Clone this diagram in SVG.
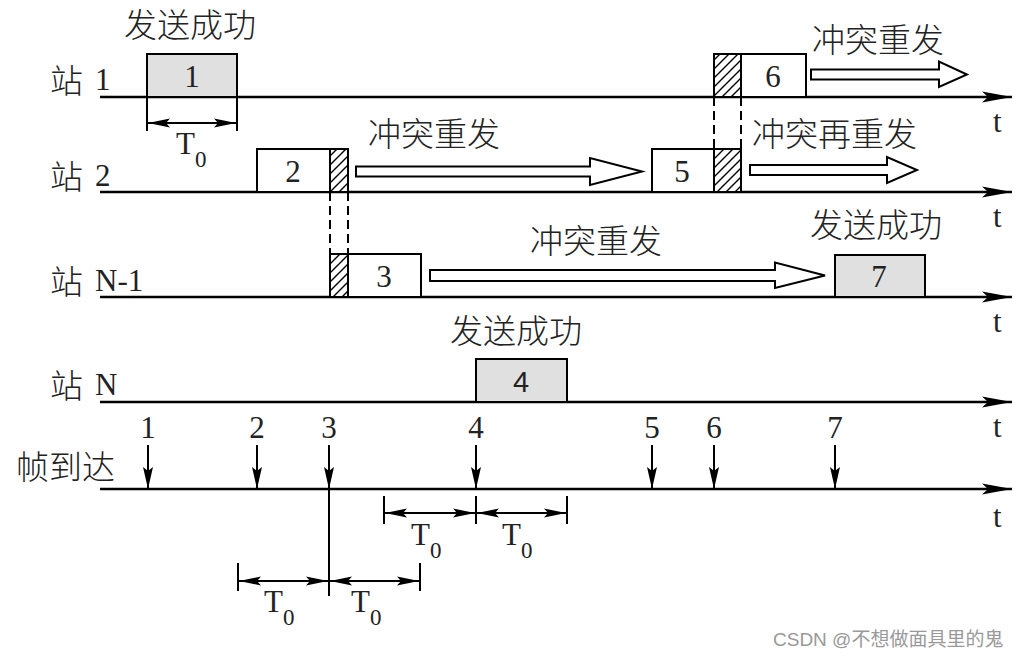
<svg xmlns="http://www.w3.org/2000/svg" width="1022" height="660" viewBox="0 0 1022 660">
<style>
.axis{stroke:#000;stroke-width:2.5;fill:none}
.box{stroke:#000;stroke-width:2;fill:#fff}
.ok{fill:#e0e0e0}
.hatch{stroke:#000;stroke-width:2;fill:url(#hp)}
.dash{stroke:#000;stroke-width:2;stroke-dasharray:9,5;fill:none}
.hollow{stroke:#000;stroke-width:2;fill:#fff}
.thin{stroke:#000;stroke-width:2;fill:none}
.cjk{font-family:"Noto Sans CJK SC","Noto Sans",sans-serif;font-size:33px;fill:#222;font-weight:300}
.num{font-family:"Liberation Serif",serif;font-size:31px;fill:#222}
.sub{font-family:"Liberation Serif",serif;font-size:23px;fill:#222}
.wm{font-family:"Liberation Sans",Arial,sans-serif;font-size:19px;fill:#999}
.wmc{font-family:"Noto Sans CJK SC",sans-serif;font-size:19px;fill:#999}
</style>
<defs>
<pattern id="hp" patternUnits="userSpaceOnUse" width="9" height="9">
<path d="M-2,11 L11,-2 M-2,2 L2,-2 M7,11 L11,7" stroke="#000" stroke-width="1.4"/>
</pattern>
<marker id="ah" viewBox="0 0 30 12" refX="30" refY="6" markerWidth="30" markerHeight="12" markerUnits="userSpaceOnUse" orient="auto">
<path d="M0,0.5 L30,6 L0,11.5 L6,6 Z" fill="#000"/>
</marker>
<marker id="dh" viewBox="0 0 22 10" refX="22" refY="5" markerWidth="22" markerHeight="10" markerUnits="userSpaceOnUse" orient="auto-start-reverse">
<path d="M0,0.5 L22,5 L0,9.5 L4,5 Z" fill="#000"/>
</marker>
<marker id="vh" viewBox="0 0 11 22" refX="5.5" refY="22" markerWidth="11" markerHeight="22" markerUnits="userSpaceOnUse" orient="0">
<path d="M0.5,0 L5.5,22 L10.5,0 L5.5,4 Z" fill="#000"/>
</marker>
</defs>
<rect width="1022" height="660" fill="#fff"/>

<g id="labels">
<text class="cjk" x="50" y="93">站</text><text class="num" x="95" y="90">1</text>
<text class="cjk" x="50" y="189">站</text><text class="num" x="95" y="186">2</text>
<text class="cjk" x="50" y="294">站</text><text class="num" x="95" y="291">N-1</text>
<text class="cjk" x="50" y="398">站</text><text class="num" x="95" y="395">N</text>
<text class="cjk" x="16" y="479">帧到达</text>
<text class="num" x="993" y="132">t</text>
<text class="num" x="993" y="227">t</text>
<text class="num" x="993" y="332">t</text>
<text class="num" x="993" y="437">t</text>
<text class="num" x="993" y="527">t</text>
</g>

<g id="connectors">
<path class="axis" d="M100,97 H1012" marker-end="url(#ah)"/>
<path class="axis" d="M100,192 H1012" marker-end="url(#ah)"/>
<path class="axis" d="M100,297 H1012" marker-end="url(#ah)"/>
<path class="axis" d="M100,402 H1012" marker-end="url(#ah)"/>
<path class="axis" d="M100,489 H1012" marker-end="url(#ah)"/>
<path class="dash" d="M330,192 V254 M348,192 V254"/>
<path class="dash" d="M714,97 V149 M741,97 V149"/>
<polygon class="hollow" points="356,166.5 590,166.5 590,158 642,171.5 590,185 590,176.5 356,176.5"/>
<polygon class="hollow" points="430,270 775,270 775,262.5 825,275.5 775,288 775,281 430,281"/>
<polygon class="hollow" points="811,69.5 939,69.5 939,61.5 967,74.5 939,87 939,79.5 811,79.5"/>
<polygon class="hollow" points="750,165 887,165 887,157 917,170 887,183 887,175 750,175"/>
<g id="arrivals">
<path class="thin" d="M148,445 V489" marker-end="url(#vh)"/>
<path class="thin" d="M257,445 V489" marker-end="url(#vh)"/>
<path class="thin" d="M329,445 V489" marker-end="url(#vh)"/>
<path class="thin" d="M476,445 V489" marker-end="url(#vh)"/>
<path class="thin" d="M652,445 V489" marker-end="url(#vh)"/>
<path class="thin" d="M714,445 V489" marker-end="url(#vh)"/>
<path class="thin" d="M835,445 V489" marker-end="url(#vh)"/>
</g>
<g id="t0-marks">
<path class="thin" d="M147,97 V131 M237,97 V131"/>
<path class="thin" d="M148,123 H236" marker-start="url(#dh)" marker-end="url(#dh)"/>
<path class="thin" d="M329,489 V596"/>
<path class="thin" d="M238,563 V591 M420,563 V591"/>
<path class="thin" d="M239,581 H328" marker-start="url(#dh)" marker-end="url(#dh)"/>
<path class="thin" d="M330,581 H419" marker-start="url(#dh)" marker-end="url(#dh)"/>
<path class="thin" d="M384,496 V524 M476,496 V524 M567,496 V524"/>
<path class="thin" d="M385,513 H475" marker-start="url(#dh)" marker-end="url(#dh)"/>
<path class="thin" d="M477,513 H566" marker-start="url(#dh)" marker-end="url(#dh)"/>
</g>
</g>

<g id="frame1"><rect class="box ok" x="147" y="54" width="90" height="43"/><text class="num" x="192" y="87" text-anchor="middle">1</text></g>
<g id="frame2"><rect class="box" x="257" y="149" width="91" height="43"/><rect class="hatch" x="330" y="149" width="18" height="43"/><text class="num" x="293" y="182" text-anchor="middle">2</text></g>
<g id="frame3"><rect class="box" x="330" y="254" width="91" height="43"/><rect class="hatch" x="330" y="254" width="18" height="43"/><text class="num" x="384" y="287" text-anchor="middle">3</text></g>
<g id="frame4"><rect class="box ok" x="476" y="359" width="91" height="43"/><text x="521" y="392" text-anchor="middle" font-family="Liberation Sans,Arial,sans-serif" font-size="29" fill="#222">4</text></g>
<g id="frame5"><rect class="box" x="652" y="149" width="89" height="43"/><rect class="hatch" x="714" y="149" width="27" height="43"/><text class="num" x="682" y="182" text-anchor="middle">5</text></g>
<g id="frame6"><rect class="box" x="714" y="54" width="92" height="43"/><rect class="hatch" x="714" y="54" width="27" height="43"/><text class="num" x="773" y="87" text-anchor="middle">6</text></g>
<g id="frame7"><rect class="box ok" x="835" y="255" width="90" height="42"/><text class="num" x="879" y="287" text-anchor="middle">7</text></g>

<g id="captions">
<text class="cjk" x="124" y="37">发送成功</text>
<text class="cjk" x="812" y="52">冲突重发</text>
<text class="cjk" x="368" y="146">冲突重发</text>
<text class="cjk" x="752" y="146">冲突再重发</text>
<text class="cjk" x="530" y="253">冲突重发</text>
<text class="cjk" x="810" y="237">发送成功</text>
<text class="cjk" x="450" y="343">发送成功</text>
</g>

<g id="arrival-numbers">
<text class="num" x="148" y="438" text-anchor="middle">1</text>
<text class="num" x="257" y="438" text-anchor="middle">2</text>
<text class="num" x="329" y="438" text-anchor="middle">3</text>
<text class="num" x="476" y="438" text-anchor="middle">4</text>
<text class="num" x="652" y="438" text-anchor="middle">5</text>
<text class="num" x="714" y="438" text-anchor="middle">6</text>
<text class="num" x="835" y="438" text-anchor="middle">7</text>
</g>

<g id="t0-labels">
<text class="num" x="176" y="154">T</text><text class="sub" x="195" y="167">0</text>
<text class="num" x="264" y="612">T</text><text class="sub" x="283" y="625">0</text>
<text class="num" x="351" y="612">T</text><text class="sub" x="370" y="625">0</text>
<text class="num" x="411" y="545">T</text><text class="sub" x="430" y="558">0</text>
<text class="num" x="502" y="545">T</text><text class="sub" x="521" y="558">0</text>
</g>

<g id="watermark">
<text class="wm" x="773" y="646">CSDN @<tspan class="wmc">不想做面具里的鬼</tspan></text>
</g>
</svg>
